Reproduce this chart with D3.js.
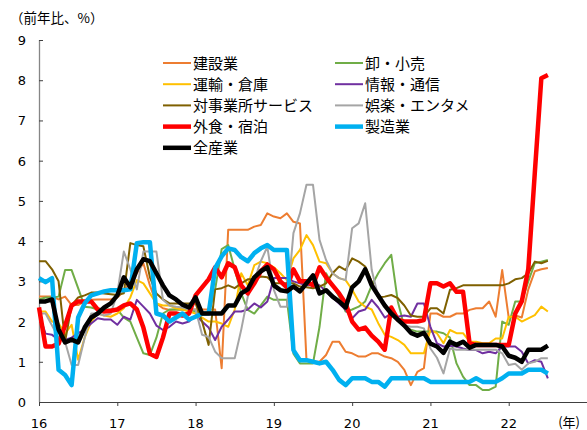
<!DOCTYPE html>
<html>
<head>
<meta charset="utf-8">
<script src="https://cdn.jsdelivr.net/npm/d3@7"></script>
<style>
  body { margin: 0; background: #fff; }
  text { fill: #000; }
</style>
</head>
<body>
<svg id="chart" width="587" height="430"></svg>
<script>
// Monthly year-on-year growth by industry, Jan 2016 – Jul 2022 (%)
const yearLabels = ["16", "17", "18", "19", "20", "21", "22", ""];
const yTicks = [0, 1, 2, 3, 4, 5, 6, 7, 8, 9];

const seriesNames = ["建設業", "卸・小売", "運輸・倉庫", "情報・通信", "対事業所サービス", "娯楽・エンタメ", "外食・宿泊", "製造業", "全産業"];
const seriesColors = ["#ED7D31", "#70AD47", "#FFC000", "#7030A0", "#7F6000", "#A5A5A5", "#FF0000", "#00B0F0", "#000000"];
const seriesWidths = [2, 2, 2, 2, 2, 2, 4.5, 4.5, 4.5];

const construction = [2.62,2.62,2.62,2.55,2.62,2.41,2.41,2.5,2.54,2.55,2.55,2.55,2.6,2.75,3.0,3.2,3.45,2.9,2.45,2.33,2.29,2.3,2.3,2.3,2.3,2.3,2.3,2.3,0.84,4.28,4.28,4.28,4.28,4.36,4.4,4.69,4.61,4.57,4.69,4.48,4.44,1.04,1.0,1.0,1.17,1.5,1.5,1.25,1.21,1.13,1.13,1.21,1.21,1.13,1.09,1.0,0.8,0.42,0.75,0.84,2.2,2.2,2.12,2.12,2.2,2.2,2.29,2.33,2.33,2.5,2.12,3.28,2.1,2.15,2.1,2.8,3.25,3.3,3.33];
const wholesale = [2.55,2.6,2.6,2.62,3.28,3.28,2.83,2.37,2.35,2.3,2.3,2.3,2.3,2.1,2.0,1.6,1.21,1.17,1.6,2.2,2.3,2.3,2.3,2.3,2.25,2.2,2.2,2.8,3.8,3.9,3.3,2.7,2.29,2.2,2.4,2.62,2.54,2.54,2.54,1.2,0.96,0.96,0.96,1.87,3.2,2.9,2.62,2.25,2.3,2.37,2.5,2.9,3.2,3.45,3.66,2.5,1.87,1.8,1.75,1.75,1.75,1.75,1.71,1.6,0.96,0.63,0.42,0.42,0.3,0.3,0.38,2.0,1.92,2.5,2.5,3.0,3.45,3.49,3.53];
const transport = [2.25,2.25,2.0,1.96,1.7,1.92,1.05,1.6,2.0,2.2,2.15,2.12,2.2,2.33,2.6,3.03,2.95,2.7,2.45,2.4,2.4,2.33,2.3,2.25,2.2,2.1,2.0,2.0,1.95,1.87,2.3,3.2,2.9,3.4,3.49,3.45,3.35,3.2,3.03,3.57,3.78,4.15,3.9,3.49,3.45,3.2,3.08,3.03,2.79,2.5,2.37,2.3,1.96,1.67,1.62,1.54,1.42,1.21,1.21,1.21,1.79,1.71,1.46,1.79,1.71,1.71,1.5,1.5,1.46,1.46,1.58,1.58,2.12,2.12,2.0,2.08,2.16,2.37,2.25];
const infoComm = [2.2,1.7,1.67,1.55,1.55,1.6,1.71,1.8,1.95,2.08,2.05,2.05,1.92,2.12,2.05,2.54,2.37,2.2,1.9,1.79,1.87,2.0,1.95,2.0,2.15,2.0,1.85,1.54,1.87,2.05,2.25,2.25,2.3,2.45,2.35,2.5,3.08,3.08,3.08,3.0,2.95,2.9,2.9,2.9,2.75,2.6,2.45,2.29,2.08,2.25,2.3,2.54,2.35,2.1,2.2,2.12,2.15,2.12,2.45,2.45,1.87,1.46,1.38,1.4,1.38,1.33,1.29,1.29,1.21,1.25,1.21,1.38,1.38,1.38,1.25,0.96,1.04,1.0,0.59];
const businessSvc = [3.5,3.5,3.3,3.0,1.5,2.4,2.6,2.65,2.72,2.72,2.7,2.68,2.66,2.7,3.95,3.9,3.87,3.1,2.7,2.55,2.45,2.45,2.45,2.45,2.45,2.0,1.42,2.8,2.83,2.9,2.83,2.95,3.05,3.05,3.12,3.1,2.95,2.95,2.95,2.95,2.87,2.85,2.83,2.87,2.95,3.2,3.37,3.28,3.57,3.49,3.37,3.0,2.6,2.62,2.66,2.58,2.4,2.15,2.12,2.12,2.33,2.33,2.2,2.79,2.83,2.9,2.9,2.9,2.9,2.9,2.9,2.9,2.95,3.05,3.08,3.2,3.49,3.45,3.51];
const entertainment = [2.2,2.2,1.9,1.6,1.5,0.92,0.92,1.6,2.2,2.2,2.15,2.2,2.7,3.74,3.3,2.8,3.74,3.74,3.74,2.54,2.4,2.37,2.35,2.3,2.3,1.67,1.62,1.25,1.09,1.09,1.09,1.8,2.62,3.03,3.5,3.86,2.79,2.37,2.37,4.2,4.69,5.4,5.4,4.03,3.53,3.2,3.08,3.03,4.32,4.44,4.94,3.28,2.62,2.4,2.2,2.0,1.9,1.87,1.87,1.83,1.33,1.1,0.71,1.33,1.3,1.3,1.3,1.3,1.3,1.3,1.3,1.21,0.92,0.95,0.8,0.96,1.0,1.09,1.09];
const foodLodging = [2.35,1.38,1.38,1.45,1.9,2.4,2.5,2.5,2.5,2.3,2.25,2.27,2.3,2.4,2.45,2.3,1.85,1.2,1.12,1.6,2.2,2.2,2.15,2.2,2.65,2.85,3.05,3.35,3.1,3.45,3.35,2.9,2.7,2.95,3.25,3.42,3.3,3.0,2.85,3.3,3.0,3.0,2.9,3.35,3.1,2.9,2.7,2.45,2.0,1.8,1.85,1.65,1.5,1.3,2.35,2.05,2.0,2.0,2.0,2.04,2.95,2.95,2.87,2.95,2.74,2.74,1.46,1.42,1.42,1.42,1.42,1.42,1.42,2.2,2.5,3.3,5.7,8.05,8.13];
const manufacturing = [3.08,2.98,3.08,0.8,0.67,0.42,2.1,2.45,2.65,2.7,2.75,2.78,2.78,2.78,2.8,3.95,3.97,3.97,2.2,2.15,2.0,2.1,2.2,2.05,2.12,2.2,2.2,3.33,3.62,3.82,3.78,3.6,3.5,3.7,3.82,3.9,3.78,3.78,3.78,1.29,1.04,1.04,1.0,0.96,1.0,0.8,0.55,0.42,0.59,0.59,0.59,0.5,0.5,0.38,0.59,0.59,0.59,0.59,0.59,0.59,0.5,0.5,0.5,0.5,0.5,0.5,0.5,0.59,0.5,0.5,0.5,0.59,0.71,0.71,0.71,0.8,0.8,0.8,0.71];
const allIndustries = [2.5,2.5,2.55,1.8,1.48,1.55,1.48,1.85,2.1,2.2,2.35,2.45,2.65,3.1,2.85,3.3,3.55,3.5,3.2,2.9,2.65,2.55,2.42,2.35,2.6,2.2,2.2,2.2,2.2,2.4,2.4,2.7,2.8,3.1,3.25,3.35,2.9,2.78,2.75,2.87,2.75,2.95,3.15,2.7,2.78,2.62,2.5,2.35,2.85,3.0,3.3,2.9,2.65,2.4,2.2,2.05,1.9,1.72,1.65,1.72,1.45,1.38,1.22,1.5,1.42,1.5,1.35,1.42,1.42,1.42,1.42,1.38,1.15,1.1,1.0,1.3,1.3,1.3,1.4];

const seriesValues = [construction, wholesale, transport, infoComm, businessSvc, entertainment, foodLodging, manufacturing, allIndustries];

const svg = d3.select("#chart");
const jpFont = "'Noto Sans CJK JP', 'Noto Sans', sans-serif";
const numFont = "'DejaVu Sans', Verdana, sans-serif";

// months since Jan 2016 on x, percent on y
const x = d3.scaleLinear().domain([0, 84]).range([39, 587]);
const y = d3.scaleLinear().domain([0, 9]).range([402, 40]);

// y axis: gray line, short inward ticks, labels on the left
const yAxis = svg.append("g").attr("transform", `translate(${x(0)},0)`)
  .call(d3.axisRight(y).tickValues(yTicks).tickSize(4).tickFormat(""));
yAxis.select(".domain").attr("stroke", "#868686").attr("stroke-width", 1.3).attr("d", `M0.5,${y(9)}V${y(0)}`);
yAxis.selectAll(".tick line").attr("stroke", "#404040");
svg.append("g").selectAll("text").data(yTicks).join("text")
  .attr("x", 26).attr("y", d => y(d) + 5)
  .attr("text-anchor", "end")
  .style("font-family", numFont).style("font-size", "13px")
  .text(d => d);

// x axis: yearly ticks pointing down
const xTickVals = d3.range(0, 85, 12);
const xAxis = svg.append("g").attr("transform", `translate(0,${y(0)})`)
  .call(d3.axisBottom(x).tickValues(xTickVals).tickSize(4).tickFormat(""));
xAxis.select(".domain").attr("stroke", "#404040").attr("stroke-width", 1.2).attr("d", `M${x(0)},0.5H${x(84)}`);
xAxis.selectAll(".tick line").attr("stroke", "#404040");
svg.append("g").selectAll("text").data(xTickVals).join("text")
  .attr("x", d => x(d)).attr("y", 428)
  .attr("text-anchor", "middle")
  .style("font-family", numFont).style("font-size", "13px")
  .text((d, i) => yearLabels[i]);
svg.append("text").attr("x", 580).attr("y", 427).attr("text-anchor", "end")
  .style("font-family", jpFont).style("font-size", "13px").text("(年)");

// unit label
svg.append("text").attr("x", 10).attr("y", 23)
  .style("font-family", jpFont).style("font-size", "13.5px").text("（前年比、%）");

// series lines
const line = d3.line().x((d, i) => x(i)).y(d => y(d));
svg.append("g").selectAll("path").data(seriesValues).join("path")
  .attr("d", line)
  .attr("fill", "none")
  .attr("stroke", (d, i) => seriesColors[i])
  .attr("stroke-width", (d, i) => seriesWidths[i])
  .attr("stroke-linejoin", "round");

// legend, two columns
const legend = svg.append("g");
const lg = legend.selectAll("g").data(seriesNames).join("g")
  .attr("transform", (d, i) => `translate(${i % 2 === 0 ? 163 : 335},${63 + Math.floor(i / 2) * 21.2})`);
lg.append("line").attr("x1", 0).attr("x2", 28).attr("y1", 0).attr("y2", 0)
  .attr("stroke", (d, i) => seriesColors[i])
  .attr("stroke-width", (d, i) => seriesWidths[i] === 2 ? 2 : 4.5);
lg.append("text").attr("x", 30).attr("y", 5.5)
  .style("font-family", jpFont).style("font-size", "15px")
  .text(d => d);
</script>
</body>
</html>
